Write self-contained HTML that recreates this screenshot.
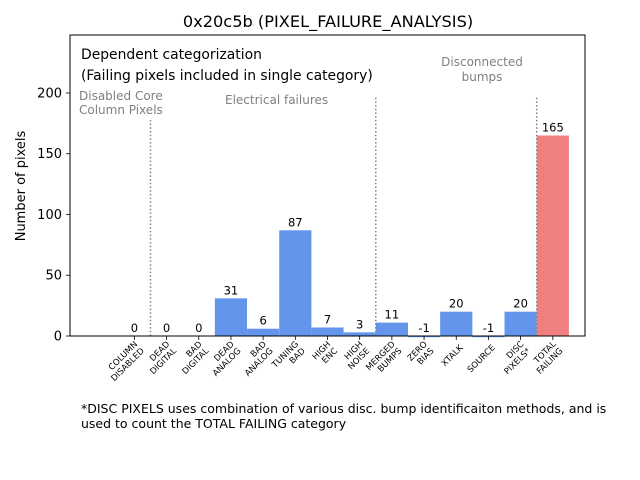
<!DOCTYPE html>
<html><head><meta charset="utf-8"><style>body{margin:0;background:#fff}svg{display:block;font-family:"DejaVu Sans","Liberation Sans",sans-serif}</style></head>
<body>
<svg id="c" width="640" height="480" viewBox="0 0 640 480">
<rect width="640" height="480" fill="#fff"/>
<text x="328" y="27" font-size="16.2" text-anchor="middle">0x20c5b (PIXEL_FAILURE_ANALYSIS)</text>
<g id="plot"></g>
<text transform="translate(25,186) rotate(-90)" font-size="13" text-anchor="middle">Number of pixels</text>
<text x="81" y="59" font-size="13.9">Dependent categorization</text>
<text x="81" y="80" font-size="13.9">(Failing pixels included in single category)</text>
<g fill="#808080" font-size="12">
<text x="79" y="100">Disabled Core</text>
<text x="79" y="114">Column Pixels</text>
<text x="225" y="104">Electrical failures</text>
<text x="482" y="66" text-anchor="middle">Disconnected</text>
<text x="482" y="81" text-anchor="middle">bumps</text>
</g>
<text x="81" y="413" font-size="12.5">*DISC PIXELS uses combination of various disc. bump identificaiton methods, and is</text>
<text x="81" y="428" font-size="12.5">used to count the TOTAL FAILING category</text>
</svg>
<script>
const categories=[["COLUMN","DISABLED"],["DEAD","DIGITAL"],["BAD","DIGITAL"],["DEAD","ANALOG"],["BAD","ANALOG"],["TUNING","BAD"],["HIGH","ENC"],["HIGH","NOISE"],["MERGED","BUMPS"],["ZERO","BIAS"],["XTALK"],["SOURCE"],["DISC","PIXELS*"],["TOTAL","FAILING"]];
const values=[0,0,0,31,6,87,7,3,11,-1,20,-1,20,165];
const yTicks=[0,50,100,150,200];
const separators=[0.5,7.5,12.5];
const separatorTops=[120,97,97];
const NS="http://www.w3.org/2000/svg";
const L=70,R=585,T=35,B=336;
const xMin=-2,xMax=14,yMin=0,yMax=247.7;
const xs=v=>L+(v-xMin)/(xMax-xMin)*(R-L);
const ys=v=>B-(v-yMin)/(yMax-yMin)*(B-T);
const g=document.getElementById('plot');
function mk(t,a){const e=document.createElementNS(NS,t);for(const k in a)e.setAttribute(k,a[k]);g.appendChild(e);return e;}
values.forEach((v,i)=>{
  const x0=xs(i-0.5),x1=xs(i+0.5);
  const r=mk('rect',{x:x0,y:Math.min(ys(v),ys(0)),width:x1-x0,height:Math.abs(ys(v)-ys(0)),fill:i===values.length-1?'#F08080':'#6495ED'});
  
  
  const t=mk('text',{x:xs(i),y:ys(Math.max(v,0))-4,'font-size':11.5,'text-anchor':'middle'});
  t.textContent=v;
  
  
  const tk=mk('line',{x1:xs(i),x2:xs(i),y1:B,y2:B+4,stroke:'#000','stroke-width':0.8});
  
  
  const lab=mk('text',{transform:`translate(${xs(i)+5},${B+10}) rotate(-45)`,'font-size':8.5,'text-anchor':'end'});
  
  
  categories[i].forEach((s,j)=>{const ts=document.createElementNS(NS,'tspan');ts.setAttribute('x',0);ts.setAttribute('dy',j===0?(categories[i].length>1?-2:3):9.5);ts.textContent=s;lab.appendChild(ts);});
});
separators.forEach((s,i)=>{
  const l=mk('line',{x1:xs(s),x2:xs(s),y1:B,y2:separatorTops[i],stroke:'#808080','stroke-width':1.5,'stroke-dasharray':'1.5,2.2'});
  
  
});
yTicks.forEach(v=>{
  const tk=mk('line',{x1:L-4,x2:L,y1:ys(v),y2:ys(v),stroke:'#000','stroke-width':0.8});
  
  
  const t=mk('text',{x:L-8,y:ys(v)+4.5,'font-size':13,'text-anchor':'end'});
  t.textContent=v;
  
  
});
const fr=mk('rect',{x:L,y:T,width:R-L,height:B-T,fill:'none',stroke:'#000','stroke-width':1});


</script>
</body></html>
